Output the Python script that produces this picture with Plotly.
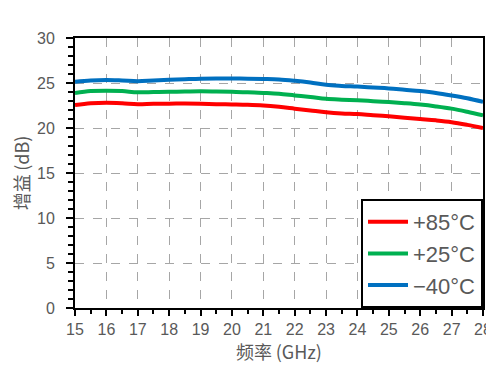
import plotly.graph_objects as go

freq = [15, 15.5, 16, 16.5, 17, 17.5, 18, 18.5, 19, 19.5, 20, 20.5, 21, 21.5, 22, 22.5, 23, 23.5, 24, 24.5, 25, 25.5, 26, 26.5, 27, 27.5, 28]
gain_85 = [22.55, 22.75, 22.8, 22.75, 22.65, 22.7, 22.7, 22.72, 22.7, 22.65, 22.62, 22.58, 22.5, 22.35, 22.15, 21.95, 21.75, 21.62, 21.55, 21.42, 21.3, 21.15, 21.0, 20.85, 20.65, 20.35, 20.0]
gain_25 = [23.9, 24.1, 24.15, 24.1, 23.97, 24.0, 24.03, 24.05, 24.07, 24.05, 24.02, 23.98, 23.9, 23.8, 23.62, 23.45, 23.25, 23.15, 23.08, 22.98, 22.88, 22.75, 22.6, 22.4, 22.15, 21.8, 21.4]
gain_m40 = [25.15, 25.28, 25.33, 25.28, 25.2, 25.28, 25.35, 25.42, 25.48, 25.5, 25.5, 25.48, 25.45, 25.4, 25.25, 25.05, 24.8, 24.68, 24.6, 24.5, 24.4, 24.25, 24.1, 23.9, 23.62, 23.3, 22.9]
labels = ["+85°C", "+25°C", "−40°C"]
colors = ["#FF0000", "#00B050", "#0070C0"]

fig = go.Figure()
for y, name, c in zip([gain_85, gain_25, gain_m40], labels, colors):
    fig.add_trace(go.Scatter(x=freq, y=y, mode="lines", name=name,
                             line=dict(color=c, width=4, shape="spline")))

cjk = "Noto Sans CJK SC, sans-serif"
num = "Liberation Sans, Arial, sans-serif"
gray = "#595959"
fig.update_layout(
    width=494, height=373,
    margin=dict(l=67, r=19, t=30, b=73, autoexpand=False),
    plot_bgcolor="white", paper_bgcolor="white",
    font=dict(family=num, color=gray, size=16),
    showlegend=True,
    legend=dict(x=1, y=0, xanchor="right", yanchor="bottom",
                bordercolor="black", borderwidth=2, bgcolor="white",
                font=dict(family=num, size=22, color=gray), tracegroupgap=0,
                itemwidth=40),
)
fig.update_xaxes(
    range=[15, 28], dtick=1, tick0=15, automargin=False,
    showline=True, linecolor="black", linewidth=2, mirror=True,
    showgrid=True, gridcolor="#A6A6A6", griddash="dash", gridwidth=1,
    ticks="outside", ticklen=6, tickcolor="black", tickwidth=1.5,
    minor=dict(dtick=0.5, ticks="outside", ticklen=4, tickcolor="black", showgrid=False),
    tickfont=dict(family=num, size=16, color=gray),
    title=dict(text="频率\u2009(GHz)", font=dict(family=cjk, size=18, color=gray), standoff=8),
    zeroline=False,
)
fig.update_yaxes(
    range=[0, 30], dtick=5, tick0=0, automargin=False,
    showline=True, linecolor="black", linewidth=2, mirror=True,
    showgrid=True, gridcolor="#A6A6A6", griddash="dash", gridwidth=1,
    ticks="outside", ticklen=7, tickcolor="black", tickwidth=1.5,
    ticklabelstandoff=8,
    minor=dict(dtick=1, ticks="outside", ticklen=5, tickcolor="black", showgrid=False),
    tickfont=dict(family=num, size=16, color=gray),
    title=dict(text="增益\u2009(dB)", font=dict(family=cjk, size=18, color=gray), standoff=10),
    zeroline=False,
)
fig.write_html("out.html")
